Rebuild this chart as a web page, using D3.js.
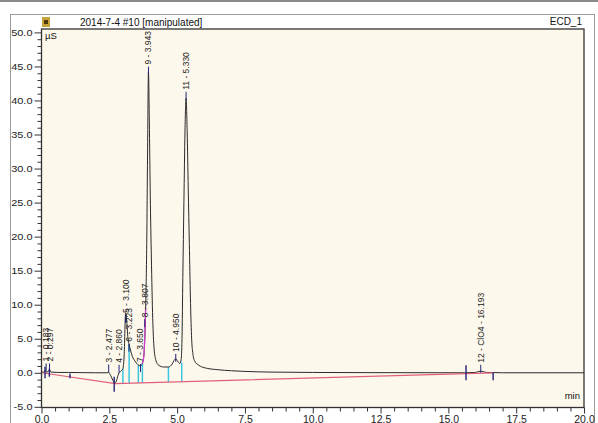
<!DOCTYPE html>
<html><head><meta charset="utf-8">
<script src="https://cdn.jsdelivr.net/npm/d3@7"></script>
<style>html,body{margin:0;padding:0;background:#fff;overflow:hidden}text{font-family:"Liberation Sans",Arial,sans-serif}</style>
</head><body>
<svg id="c" width="598" height="423"></svg>
<script>
// ---- data ----
const signalTime  = [0.00,0.08,0.13,0.18,0.24,0.297,0.35,0.60,1.00,1.50,2.00,2.40,2.477,2.55,2.63,2.70,2.76,2.82,2.86,2.93,3.00,3.05,3.10,3.15,3.19,3.223,3.27,3.35,3.45,3.55,3.65,3.72,3.77,3.807,3.84,3.88,3.91,3.943,3.975,4.01,4.05,4.10,4.15,4.22,4.32,4.50,4.68,4.82,4.90,4.95,5.02,5.10,5.15,5.18,5.21,5.25,5.29,5.33,5.37,5.41,5.45,5.49,5.53,5.58,5.65,5.80,6.00,6.50,7.00,7.50,8.50,10.0,12.0,15.6,16.0,16.193,16.40,17.0,20.0];
const signalValue = [0.10,0.10,0.35,0.10,0.15,0.45,0.10,0.05,0.05,0.02,0.00,0.00,0.05,-0.40,-1.10,-1.55,-1.20,-0.40,0.00,0.25,0.60,2.80,8.80,7.20,4.90,4.30,3.50,2.40,1.70,1.20,1.00,1.40,2.40,5.00,9.50,19.0,32.0,44.2,37.0,26.0,17.0,8.00,3.60,1.80,1.10,0.85,0.85,1.30,1.90,2.05,1.70,1.35,2.00,5.00,14.0,25.0,35.5,40.3,35.5,27.0,19.0,11.0,5.50,2.80,1.70,1.10,0.75,0.45,0.30,0.20,0.10,0.05,0.02,0.00,0.05,0.25,0.05,0.00,0.00];

const baselineTime  = [0.0, 2.72, 16.65];
const baselineValue = [0.0, -1.6, 0.0];

const delimTime = [3.00, 3.23, 3.57, 3.72, 4.68, 5.17];
const delimTop  = [0.60, 4.20, 1.15, 1.40, 0.85, 1.50];

const markerTime = [0.13, 0.29, 1.05, 2.68, 15.65, 16.65];
const markerLow  = [-0.8, -0.6, -0.8, -2.8, -1.1, -1.1];
const markerHigh = [0.9, 0.6, -0.1, -0.6, 1.1, 0.0];

const peakNames = ["1 - 0.183","2 - 0.297","3 - 2.477","4 - 2.860","5 - 3.100","6 - 3.223","7 - 3.650","8 - 3.807","9 - 3.943","10 - 4.950","11 - 5.330","12 - ClO4 - 16.193"];
const peakTime  = [0.17, 0.297, 2.477, 2.86, 3.10, 3.223, 3.65, 3.807, 3.943, 4.95, 5.33, 16.193];
const peakTick  = [0.2, 0.2, 0.05, 0.0, 7.3, 3.1, 0.1, 6.7, 43.8, 1.6, 40.1, 0.0];

const xTicks = [0, 2.5, 5, 7.5, 10, 12.5, 15, 17.5, 20];
const yTicks = [-5, 0, 5, 10, 15, 20, 25, 30, 35, 40, 45, 50];

const titleText = "2014-7-4 #10 [manipulated]";
const channelText = "ECD_1";
const yUnit = "µS";
const xUnit = "min";

// ---- drawing ----
const W = 598, H = 423;
const P = {left: 41.5, right: 584, top: 29, bottom: 407.5};
const svg = d3.select("#c");
const x = d3.scaleLinear().domain([0, 20]).range([P.left, P.right]);
const y = d3.scaleLinear().domain([-5.1, 50.5]).range([P.bottom, P.top]);
const baseAt = d3.scaleLinear().domain(baselineTime).range(baselineValue);

svg.append("rect").attr("x",0).attr("y",0).attr("width",W).attr("height",2).attr("fill","#8a8a8a");
svg.append("rect").attr("x",10.5).attr("y",14.5).attr("width",584).attr("height",420)
  .attr("fill","#fff").attr("stroke","#9a9a9a");

// header
svg.append("rect").attr("x",42).attr("y",17).attr("width",8).attr("height",10).attr("fill","#c9a23a");
svg.append("rect").attr("x",44).attr("y",20).attr("width",4).attr("height",4).attr("fill","#4a3a10");
svg.append("text").attr("x",80).attr("y",26).attr("font-size",10).attr("fill","#111").text(titleText);
svg.append("text").attr("x",582).attr("y",25).attr("font-size",10).attr("text-anchor","end").attr("fill","#111").text(channelText);

// plot bg
svg.append("rect").attr("x",P.left).attr("y",P.top).attr("width",P.right-P.left).attr("height",P.bottom-P.top)
  .attr("fill","#fdf8ec");

svg.append("defs").append("clipPath").attr("id","clip").append("rect")
  .attr("x",P.left).attr("y",P.top).attr("width",P.right-P.left).attr("height",P.bottom-P.top);
const g = svg.append("g").attr("clip-path","url(#clip)");

const sig = signalTime.map((t,i)=>({t, v: signalValue[i]}));
const line = d3.line().x(d=>x(d.t)).y(d=>y(d.v)).curve(d3.curveMonotoneX);

// cyan delimiters
g.selectAll(".dl").data(delimTime).join("line")
  .attr("x1",d=>x(d)).attr("x2",d=>x(d))
  .attr("y1",d=>y(baseAt(d))).attr("y2",(d,i)=>y(delimTop[i]))
  .attr("stroke","#3cc6e0").attr("stroke-width",1.5);

// signal
g.append("path").datum(sig).attr("d",line).attr("fill","none").attr("stroke","#2a2a2a").attr("stroke-width",1);
// manipulated segment
g.append("path").datum(sig.filter(d=>d.t>=3.72 && d.t<=3.84)).attr("d",line)
  .attr("fill","none").attr("stroke","#d040c8").attr("stroke-width",1.3);

// baseline
const base = baselineTime.map((t,i)=>({t, v: baselineValue[i]}));
g.append("path").datum(base).attr("d",d3.line().x(d=>x(d.t)).y(d=>y(d.v)))
  .attr("fill","none").attr("stroke","#e0607a").attr("stroke-width",1.2);

// markers
g.selectAll(".mk").data(markerTime).join("line")
  .attr("x1",d=>x(d)).attr("x2",d=>x(d))
  .attr("y1",(d,i)=>y(markerLow[i])).attr("y2",(d,i)=>y(markerHigh[i]))
  .attr("stroke","#22227a").attr("stroke-width",1.4);

// peak labels
peakNames.forEach((name,i)=>{
  const px = x(peakTime[i]), py = y(peakTick[i]);
  g.append("line").attr("x1",px).attr("x2",px).attr("y1",py).attr("y2",py-8)
    .attr("stroke","#22227a").attr("stroke-width",1);
  g.append("text").attr("transform",`translate(${px},${py-10}) rotate(-90)`)
    .attr("dy","0.35em").attr("font-size",8.5).attr("fill","#222").text(name);
});

// units
svg.append("text").attr("x",45).attr("y",38.5).attr("font-size",9.5).attr("fill","#111").text(yUnit);
svg.append("text").attr("x",580).attr("y",399).attr("font-size",9.5).attr("text-anchor","end").attr("fill","#111").text(xUnit);

// plot border
svg.append("rect").attr("x",P.left).attr("y",P.top).attr("width",P.right-P.left).attr("height",P.bottom-P.top)
  .attr("fill","none").attr("stroke","#333").attr("stroke-width",1.3);

// y axis
const yMinor = d3.range(-5, 51, 1).filter(v=>v%5!==0);
svg.append("g").attr("transform",`translate(${P.left},0)`)
  .call(d3.axisLeft(y).tickValues(yMinor).tickSize(4).tickFormat(""))
  .call(a=>a.select(".domain").remove()).selectAll("line").attr("stroke","#333");
const ya = svg.append("g").attr("transform",`translate(${P.left},0)`)
  .call(d3.axisLeft(y).tickValues(yTicks).tickSize(7).tickPadding(2).tickFormat(d=>d.toFixed(1)));
ya.select(".domain").remove();
ya.selectAll("line").attr("stroke","#333");
ya.selectAll("text").attr("font-size",9).attr("fill","#222").attr("font-family","Liberation Sans, Arial, sans-serif")
  .each(function(){ const L=this.getComputedTextLength(); d3.select(this).attr("textLength",L*1.22).attr("lengthAdjust","spacingAndGlyphs"); });

// x axis
const xMinor = d3.range(0, 20.01, 0.5).filter(v=>Math.abs(v/2.5-Math.round(v/2.5))>1e-6);
svg.append("g").attr("transform",`translate(0,${P.bottom})`)
  .call(d3.axisBottom(x).tickValues(xMinor).tickSize(4).tickFormat(""))
  .call(a=>a.select(".domain").remove()).selectAll("line").attr("stroke","#333");
const xa = svg.append("g").attr("transform",`translate(0,${P.bottom})`)
  .call(d3.axisBottom(x).tickValues(xTicks).tickSize(6).tickPadding(2).tickFormat(d=>d.toFixed(1)));
xa.select(".domain").remove();
xa.selectAll("line").attr("stroke","#333");
xa.selectAll("text").attr("font-size",10.5).attr("fill","#222").attr("font-family","Liberation Sans, Arial, sans-serif");
</script>
</body></html>
